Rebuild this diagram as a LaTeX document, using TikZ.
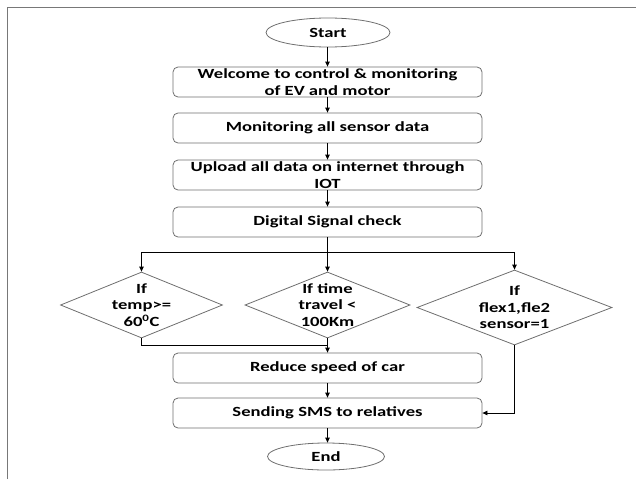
\documentclass[tikz,border=0pt]{standalone}
\usepackage{fontspec}
\setmainfont{Carlito}[FakeStretch=1.33]
\usetikzlibrary{shapes.geometric,arrows.meta}
\definecolor{boxgray}{RGB}{110,110,110}
\definecolor{framegray}{RGB}{120,120,120}
\tikzset{
  txt/.style={font=\bfseries\fontsize{14}{16.5}\selectfont, text=black},
  box/.style={txt, draw=boxgray, line width=0.8pt, rounded corners=5pt,
    minimum width=309pt, minimum height=30pt, inner sep=0pt, align=center},
  term/.style={txt, draw=boxgray, line width=0.8pt, ellipse, inner sep=0pt},
  dia/.style={draw=boxgray, line width=0.8pt, diamond, inner sep=0pt},
  lbl/.style={txt, align=center, inner sep=0pt},
  ln/.style={black, line width=0.8pt},
  arr/.style={ln, -{Triangle[length=5pt,width=4.5pt]}},
  frame/.style={framegray, line width=1.2pt}
}
\begin{document}
\begin{tikzpicture}[x=1pt,y=-1pt]
\useasboundingbox (0,0) rectangle (636,479);
% frame
\coordinate (fBL) at (7.5,479);
\coordinate (fTL) at (7.5,7.5);
\coordinate (fTR) at (636,7.5);
\draw[frame] (fBL) -- (fTL) -- (fTR);

\node[term, minimum width=124pt, minimum height=29pt] (start) at (328,32.5) {Start};
\node[box] (welcome) at (327.5,82) {Welcome to control \& monitoring\\of EV and motor};
\node[box] (mon) at (327.5,128) {Monitoring all sensor data};
\node[box] (up) at (327.5,175) {Upload all data on internet through\\IOT};
\node[box] (dig) at (327.5,222) {Digital Signal check};
\coordinate (split) at (327.5,252);

\node[dia, minimum width=162pt, minimum height=66pt] (d1) at (141.5,305) {};
\node[lbl] (t1) at (d1.center) {If\\temp>=\\60\textsuperscript{0}C};
\node[dia, minimum width=165pt, minimum height=66pt] (d2) at (327.5,305) {};
\node[lbl] (t2) at (d2.center) {If time\\travel <\\100Km};
\node[dia, minimum width=195pt, minimum height=75pt] (d3) at (514.5,307.5) {};
\node[lbl] (t3) at (d3.center) {If\\flex1,fle2\\sensor=1};

\coordinate (join) at (327.5,345);
\node[box] (reduce) at (327.5,368) {Reduce speed of car};
\node[box] (send) at (327.5,413) {Sending SMS to relatives};
\node[term, minimum width=117pt, minimum height=27pt] (stop) at (326,456.5) {End};

\draw[arr] (start.south -| welcome.north) -- (welcome.north);
\draw[arr] (welcome) -- (mon);
\draw[arr] (mon) -- (up);
\draw[arr] (up) -- (dig);
\draw[ln] (dig.south) -- (split);
\draw[arr] (split) -- (d2.north);
\draw[arr] (split) -| (d1.north);
\draw[arr] (split) -| (d3.north);
\draw[ln] (d1.south) |- (join);
\draw[arr] (d2.south) -- (reduce.north);
\draw[arr] (reduce) -- (send);
\draw[arr] (d3.south) |- (send.east);
\draw[arr] (send.south) -- (send.south |- stop.north);
\end{tikzpicture}
\end{document}
